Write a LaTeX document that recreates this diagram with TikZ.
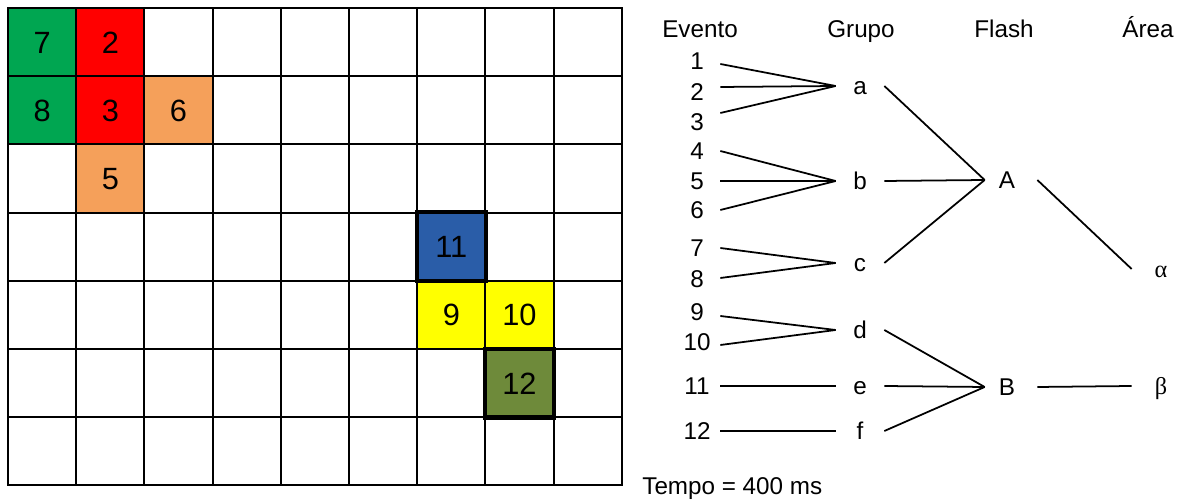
\documentclass[tikz,border=0pt]{standalone}
\usepackage{fontspec}
\setmainfont{Liberation Sans}
\newfontfamily\greekfont{Liberation Serif}
\usetikzlibrary{calc}

\definecolor{verde}{HTML}{00A651}
\definecolor{vermelho}{HTML}{FF0000}
\definecolor{laranja}{HTML}{F5A05A}
\definecolor{azul}{HTML}{2A5DA8}
\definecolor{amarelo}{HTML}{FFFF00}
\definecolor{oliva}{HTML}{6E8A3A}

\begin{document}
\begin{tikzpicture}[x=0.02cm, y=-0.02cm,
  cell/.style={minimum size=1.364cm, inner sep=0, text height=12.5pt, text depth=0pt, font=\fontsize{17.5}{19}\selectfont},
  lbl/.style={inner sep=0, text height=9.9pt, text depth=0pt, font=\fontsize{13.8}{15}\selectfont},
  evt/.style={lbl, minimum width=0.92cm},
  grp/.style={lbl, minimum width=0.96cm},
  fls/.style={lbl, minimum width=0.88cm},
  area/.style={lbl, minimum width=1.16cm, font=\fontsize{13.8}{15}\greekfont},
  con/.style={line width=1pt},
  gridline/.style={line width=1.1pt, line cap=rect},
  borda/.style={line width=2.4pt}]

\useasboundingbox (0,0) rectangle (1184,502);

\def\cw{68.2}
% celulas coloridas
\foreach \c/\r/\cor/\n in {0/0/verde/7, 1/0/vermelho/2, 0/1/verde/8, 1/1/vermelho/3, 2/1/laranja/6, 1/2/laranja/5, 6/3/azul/11, 6/4/amarelo/9, 7/4/amarelo/10, 7/5/oliva/12} {
  \node (c\n) at ({8+(\c+0.5)*\cw}, {8+(\r+0.5)*\cw}) [cell, fill=\cor] {\n};
}

% grade
\foreach \i in {0,...,9}
  \draw[gridline] ({8+\i*\cw}, 8) -- ++(0, {7*\cw});
\foreach \j in {0,...,7}
  \draw[gridline] (8, {8+\j*\cw}) -- ++({9*\cw}, 0);
\draw[borda] (c11.north west) rectangle (c11.south east);
\draw[borda] (c12.north west) rectangle (c12.south east);

% titulos
\node (hev) at (700,29) [lbl] {Evento};
\node (hgr) at (861,29) [lbl] {Grupo};
\node (hfl) at (1004,29) [lbl] {Flash};
\node (har) at (1148,29) [lbl] {Área};

\foreach \n/\y in {1/61, 2/92, 3/122, 4/151, 5/181, 6/210, 7/248, 8/279, 9/312, 10/342, 11/386, 12/431}
  \node (e\n) at (697,\y) [evt] {\n};
\foreach \g/\y in {a/86, b/181, c/263, d/330, e/386, f/431}
  \node (g\g) at (860,\y) [grp] {\g};
\node (fA) at (1007,180) [fls] {A};
\node (fB) at (1007,387) [fls] {B};
\node (aalfa) at (1161,269) [area] {α};
\node (abeta) at (1161,386) [area] {β};
\node (tempo) at (642,486) [lbl, anchor=west] {Tempo = 400 ms};

\foreach \n/\dy/\g in {1/3/a, 2/-5/a, 3/-9/a, 4/0/b, 5/0/b, 6/0/b, 7/0/c, 8/-1/c, 9/4/d, 10/3/d, 11/0/e, 12/0/f}
  \draw[con] ($(e\n.east)+(0,\dy)$) -- (g\g.west);
\foreach \g/\f in {a/A, b/A, c/A, d/B, e/B, f/B}
  \draw[con] (g\g.east) -- (f\f.west);
\draw[con] ([xshift=0.16cm]fA.east) -- (aalfa.west);
\draw[con] ([xshift=0.16cm]fB.east) -- (abeta.west);
\end{tikzpicture}
\end{document}
